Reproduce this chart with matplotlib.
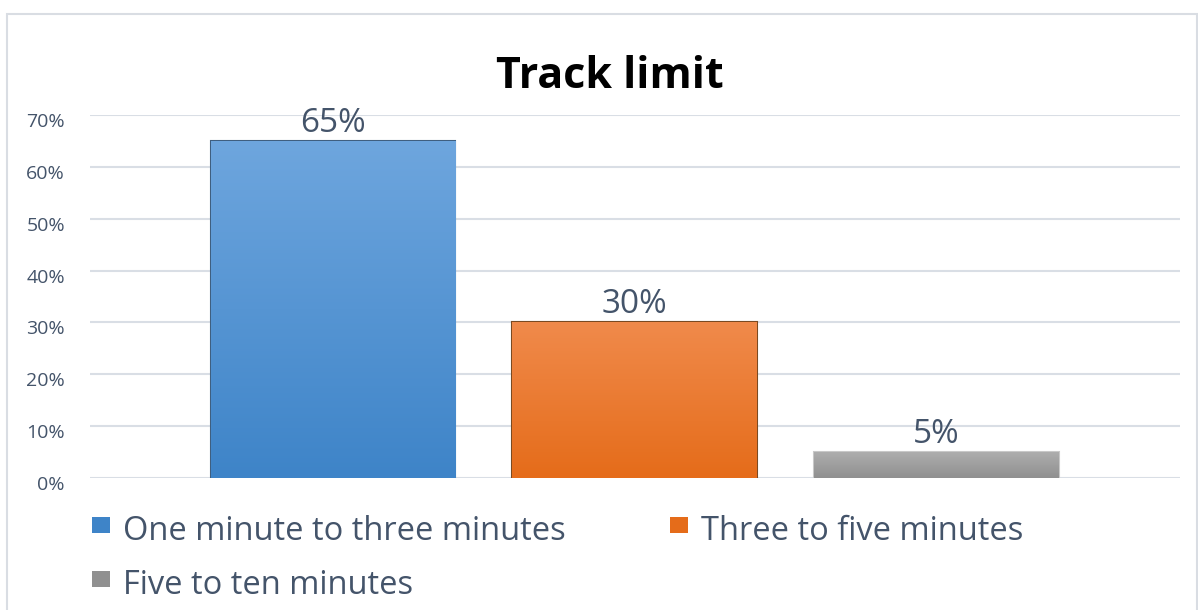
import numpy as np
import matplotlib.pyplot as plt
import matplotlib.transforms as mtransforms
from matplotlib.patches import Rectangle

# data
categories = ["One minute to three minutes", "Three to five minutes", "Five to ten minutes"]
values = [0.65, 0.30, 0.05]
labels = ["65%", "30%", "5%"]
yticks = [0, 0.1, 0.2, 0.3, 0.4, 0.5, 0.6, 0.7]
ytick_labels = ["0%", "10%", "20%", "30%", "40%", "50%", "60%", "70%"]

# gradient colours (top, bottom) and edge colours
grad_top = ["#6EA6DE", "#F08A4B", "#ADADAD"]
grad_bot = ["#3E84C8", "#E56C1A", "#909090"]
edge_cols = ["#3F5F80", "#7A4A22", "#C8C8C8"]

plt.rcParams["font.family"] = ["Open Sans", "DejaVu Sans"]
text_col = "#44546A"

W, H = 1198, 610
fig = plt.figure(figsize=(W / 100, H / 100), dpi=100)

# chart border
fig.patches.append(Rectangle((7 / W, -0.01), (W - 8) / W, (H - 14) / H + 0.01,
                             transform=fig.transFigure, fill=False,
                             edgecolor="#D9DDE3", lw=1.5))

ax = fig.add_axes([90 / W, 132 / H, 1090 / W, (478 - 115) / H])
x = np.arange(len(values))
bars = ax.bar(x, values, width=0.81, color="none", zorder=3)

# vertical gradient inside each bar
grad = np.linspace(0, 1, 256).reshape(-1, 1)
for i, b in enumerate(bars):
    c0 = np.array(plt.matplotlib.colors.to_rgb(grad_top[i]))
    c1 = np.array(plt.matplotlib.colors.to_rgb(grad_bot[i]))
    img = c0 + (c1 - c0) * grad[:, :, None]
    im = ax.imshow(img, extent=(b.get_x(), b.get_x() + b.get_width(), 0, b.get_height()),
                   aspect="auto", zorder=3, origin="upper")
    im.set_clip_path(b)
    b.set_edgecolor(edge_cols[i])
    b.set_linewidth(1.5)
    ax.text(b.get_x() + b.get_width() / 2, b.get_height() + 0.002, labels[i],
            ha="center", va="bottom", fontsize=24, color=text_col, zorder=4)

ax.set_xlim(-0.805, 2.807)
ax.set_ylim(0, 0.7)
ax.set_yticks(yticks)
ax.set_yticklabels(ytick_labels, fontsize=14, color=text_col)
ax.tick_params(axis="y", length=0, pad=18)
# tick labels sit a little below their gridlines
shift = mtransforms.ScaledTranslation(0, -5 / 100, fig.dpi_scale_trans)
for t in ax.get_yticklabels():
    t.set_transform(t.get_transform() + shift)
ax.set_xticks([])
ax.grid(axis="y", color="#D9DEE5", lw=1.5, zorder=0)
for s in ax.spines.values():
    s.set_visible(False)

fig.text(610 / W, 1 - 76 / H, "Track limit", ha="center", va="center",
         fontsize=31, fontweight="bold", color="black")

# legend
leg_pos = [(92, 532), (670, 532), (92, 586)]
for i, (lx, ly) in enumerate(leg_pos):
    fig.patches.append(Rectangle((lx / W, 1 - (ly + 1) / H), 18 / W, 16 / H,
                                 transform=fig.transFigure,
                                 facecolor=grad_bot[i], edgecolor="none"))
    fig.text((lx + 31) / W, 1 - ly / H, categories[i], ha="left", va="center",
             fontsize=23.5, color=text_col)

fig.savefig("out.png", dpi=100)
